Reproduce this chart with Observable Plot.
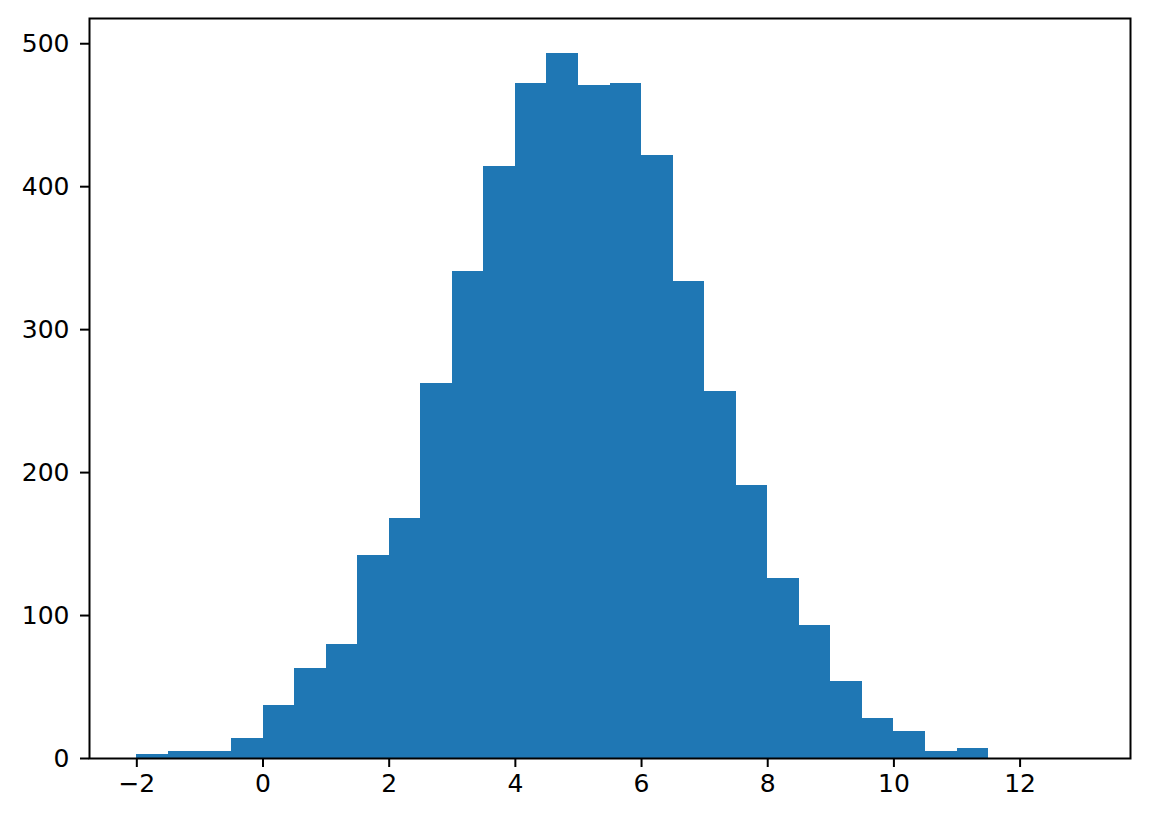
<!DOCTYPE html>
<html>
<head>
<meta charset="utf-8">
<script src="https://cdn.jsdelivr.net/npm/d3@7"></script>
<script src="https://cdn.jsdelivr.net/npm/@observablehq/plot@0.6"></script>
<style>
  html, body { margin: 0; padding: 0; background: #fff; }
</style>
</head>
<body>
<div id="chart"></div>
<script>
// Bin edges (width 0.5) and counts
const binLow  = [-2, -1.5, -1, -0.5, 0, 0.5, 1, 1.5, 2, 2.5, 3, 3.5, 4, 4.5, 5, 5.5, 6, 6.5, 7, 7.5, 8, 8.5, 9, 9.5, 10, 10.5, 11, 11.5, 12, 12.5];
const binHigh = [-1.5, -1, -0.5, 0, 0.5, 1, 1.5, 2, 2.5, 3, 3.5, 4, 4.5, 5, 5.5, 6, 6.5, 7, 7.5, 8, 8.5, 9, 9.5, 10, 10.5, 11, 11.5, 12, 12.5, 13];
const counts  = [3, 5, 5, 14, 37, 63, 80, 142, 168, 262, 341, 414, 472, 493, 471, 472, 422, 334, 257, 191, 126, 93, 54, 28, 19, 5, 7, 0, 0, 0];
const xTicks = [-2, 0, 2, 4, 6, 8, 10, 12];
const yTicks = [0, 100, 200, 300, 400, 500];

const bins = binLow.map((lo, i) => ({x1: lo, x2: binHigh[i], count: counts[i]}));

const xMin = d3.min(binLow), xMax = d3.max(binHigh);
const xPad = (xMax - xMin) * 0.05;
const yMax = d3.max(counts) * 1.05;

const fmt = d => d < 0 ? "\u2212" + (-d) : String(d);

const chart = Plot.plot({
  width: 1149,
  height: 822,
  marginLeft: 89,
  marginRight: 19,
  marginTop: 18,
  marginBottom: 64,
  style: {fontFamily: "'DejaVu Sans', sans-serif", fontSize: "25px", color: "black", background: "white"},
  x: {domain: [xMin - xPad, xMax + xPad]},
  y: {domain: [0, yMax]},
  marks: [
    Plot.rectY(bins, {x1: "x1", x2: "x2", y: "count", fill: "#1f77b4", inset: 0, shapeRendering: "crispEdges"}),
    Plot.frame({stroke: "black", strokeWidth: 2}),
    Plot.axisX({ticks: xTicks, tickFormat: fmt, tickSize: 9, tickPadding: 7, strokeWidth: 2, label: null, fontSize: 25}),
    Plot.axisY({ticks: yTicks, tickFormat: fmt, tickSize: 9, tickPadding: 11, strokeWidth: 2, label: null, fontSize: 25})
  ]
});
document.getElementById("chart").appendChild(chart);
</script>
</body>
</html>
